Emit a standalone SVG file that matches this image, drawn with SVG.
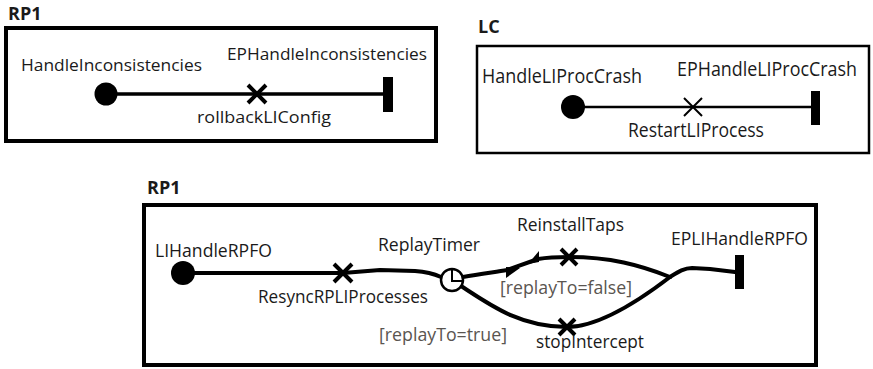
<svg xmlns="http://www.w3.org/2000/svg" width="873" height="369" viewBox="0 0 873 369">
<style>
text{font-family:"Open Sans","Liberation Sans",sans-serif;fill:#1a1a1a;font-size:17px}
.t{font-weight:bold;font-size:18px}
.b3{font-size:18px}
.lc{font-size:19.5px}
.g{fill:#5a5550}
.frame{fill:none;stroke:#000}
.ln{fill:none;stroke:#000;stroke-linecap:round;stroke-linejoin:round}
.x{stroke:#000;stroke-linecap:butt}
</style>
<rect width="873" height="369" fill="#fff"/>
<g id="frame_rp1_top">
<rect class="frame" x="6" y="28" width="430" height="113" stroke-width="4"/>
<text class="t" x="8" y="20">RP1</text>
</g>
<g id="frame_lc">
<rect class="frame" x="477" y="46" width="392" height="107" stroke-width="2.5"/>
<text class="t" x="478" y="33">LC</text>
</g>
<g id="frame_rp1_bottom">
<rect class="frame" x="144" y="205" width="672" height="160" stroke-width="4"/>
<text class="t" x="147" y="194">RP1</text>
</g>
<g id="connectors">
<path class="ln" d="M106,94 L385,94" stroke-width="3.5"/>
<path class="ln" d="M573,107 L812,107" stroke-width="2.5"/>
<path class="ln" d="M183,273 L343,273 L380,270 L415,271 Q430,272 441,277" stroke-width="4"/>
<path class="ln" d="M463,277 C480,274 495,272 507,270 L538,259 C550,257 560,257 569,257 C610,257 640,265 670,277" stroke-width="4"/>
<path class="ln" d="M461,286 C490,305 520,327 567,327 C600,327 640,300 670,277" stroke-width="4"/>
<path class="ln" d="M670,277 C678,272 684,268 692,268 L710,269 L735,272" stroke-width="4"/>
<polygon points="506,267 506,278 520,268" fill="#000"/>
<polygon points="539,251 539,262 528,264" fill="#000"/>
</g>
<g id="HandleInconsistencies">
<circle cx="106" cy="94" r="11.5" fill="#000"/>
<text x="21" y="71" textLength="181" lengthAdjust="spacingAndGlyphs">HandleInconsistencies</text>
</g>
<g id="rollbackLIConfig">
<path class="x" d="M248,85 L266,103 M266,85 L248,103" stroke-width="4"/>
<text x="197" y="123" textLength="134" lengthAdjust="spacingAndGlyphs">rollbackLIConfig</text>
</g>
<g id="EPHandleInconsistencies">
<rect x="383" y="77" width="10" height="35" fill="#000"/>
<text x="227" y="60" textLength="200" lengthAdjust="spacingAndGlyphs">EPHandleInconsistencies</text>
</g>
<g id="HandleLIProcCrash">
<circle cx="573" cy="107" r="12" fill="#000"/>
<text class="lc" x="482" y="83" textLength="160" lengthAdjust="spacingAndGlyphs">HandleLIProcCrash</text>
</g>
<g id="RestartLIProcess">
<path class="x" d="M684,98 L702,116 M702,98 L684,116" stroke-width="2"/>
<text class="lc" x="628" y="137" textLength="136" lengthAdjust="spacingAndGlyphs">RestartLIProcess</text>
</g>
<g id="EPHandleLIProcCrash">
<rect x="811" y="91" width="9" height="34" fill="#000"/>
<text class="lc" x="677" y="76" textLength="180" lengthAdjust="spacingAndGlyphs">EPHandleLIProcCrash</text>
</g>
<g id="LIHandleRPFO">
<circle cx="183" cy="273" r="12" fill="#000"/>
<text class="b3" x="155" y="257" textLength="117" lengthAdjust="spacingAndGlyphs">LIHandleRPFO</text>
</g>
<g id="ResyncRPLIProcesses">
<path class="x" d="M334,264 L352,282 M352,264 L334,282" stroke-width="4"/>
<text class="b3" x="258" y="303" textLength="170" lengthAdjust="spacingAndGlyphs">ResyncRPLIProcesses</text>
</g>
<g id="ReplayTimer">
<circle cx="452" cy="280" r="11" fill="#fff" stroke="#000" stroke-width="2.5"/>
<path d="M452,270 L452,281 L462,281" fill="none" stroke="#000" stroke-width="2"/>
<text class="b3" x="378" y="251" textLength="102" lengthAdjust="spacingAndGlyphs">ReplayTimer</text>
</g>
<g id="guard_true">
<text class="g b3" x="379" y="341" textLength="128" lengthAdjust="spacingAndGlyphs">[replayTo=true]</text>
</g>
<g id="guard_false">
<text class="g b3" x="500" y="294" textLength="132" lengthAdjust="spacingAndGlyphs">[replayTo=false]</text>
</g>
<g id="ReinstallTaps">
<path class="x" d="M561,249 L577,265 M577,249 L561,265" stroke-width="4"/>
<text class="b3" x="517" y="231" textLength="107" lengthAdjust="spacingAndGlyphs">ReinstallTaps</text>
</g>
<g id="stopIntercept">
<path class="x" d="M559,319 L575,335 M575,319 L559,335" stroke-width="4"/>
<text class="b3" x="536" y="348" textLength="108" lengthAdjust="spacingAndGlyphs">stopIntercept</text>
</g>
<g id="EPLIHandleRPFO">
<rect x="735" y="255" width="9" height="34" fill="#000"/>
<text class="b3" x="671" y="245" textLength="137" lengthAdjust="spacingAndGlyphs">EPLIHandleRPFO</text>
</g>
</svg>
